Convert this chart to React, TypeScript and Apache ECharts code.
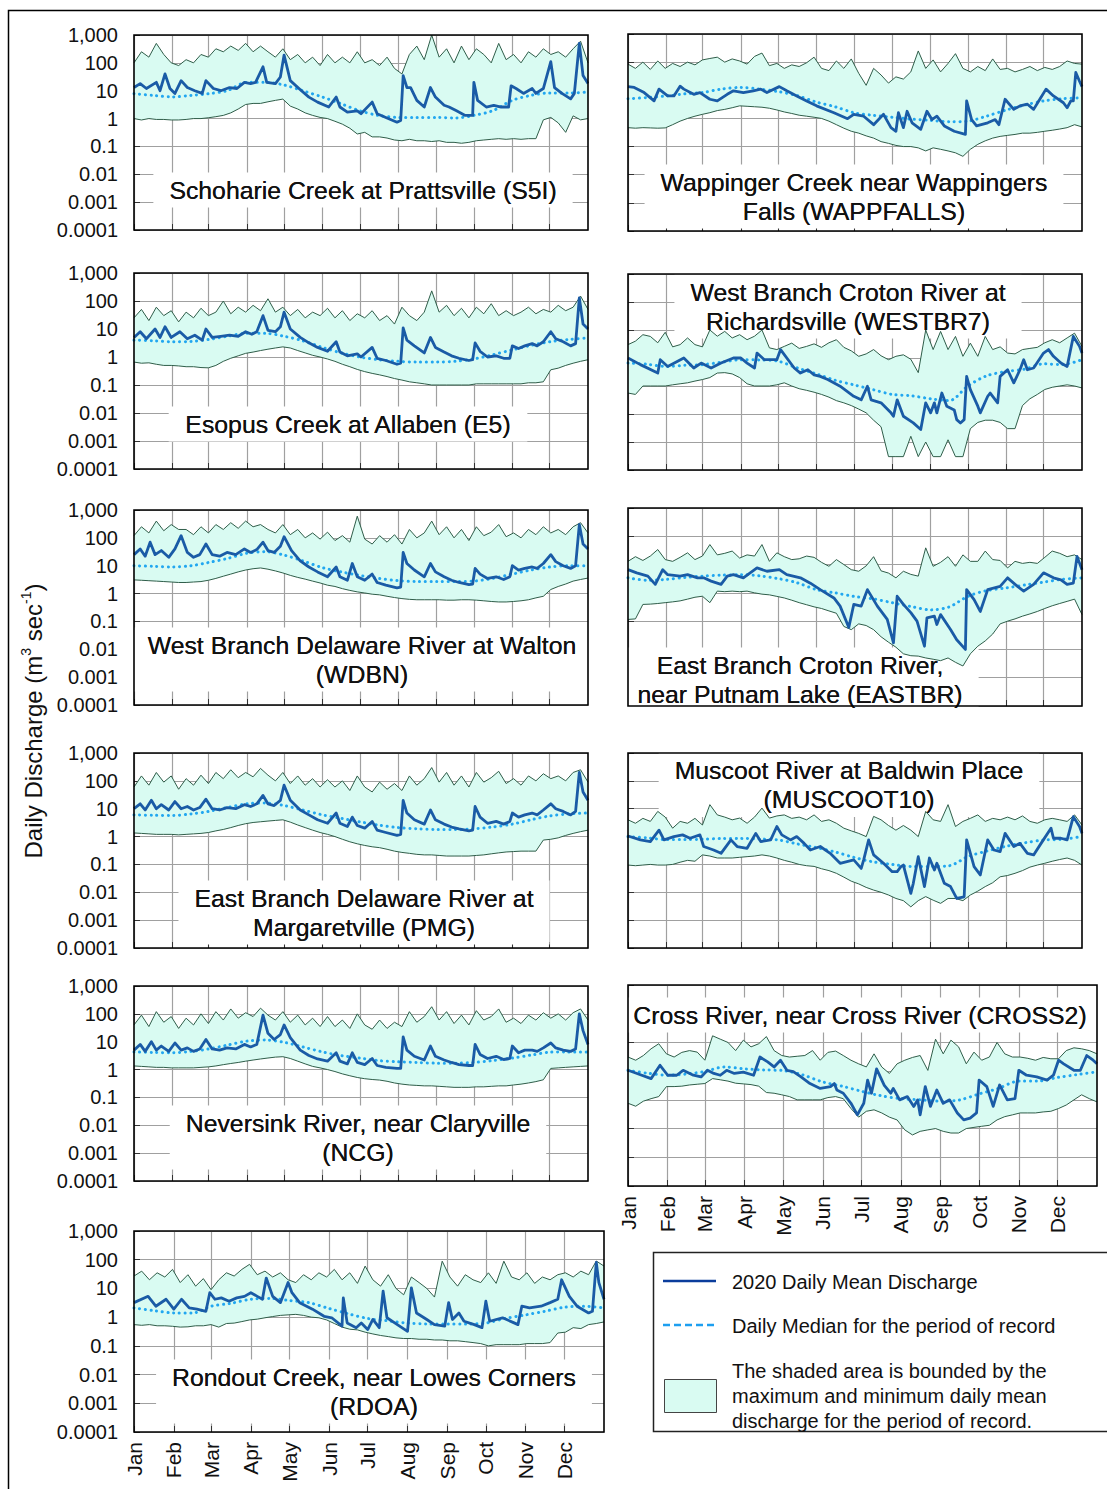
import React, { useEffect, useRef } from 'react';
import * as echarts from 'echarts';

// ---------- shared axes ----------
const ENV_DAYS = [
  0, 6, 12, 18, 24, 30, 36, 42, 48, 54,
  60, 66, 72, 78, 84, 90, 96, 102, 108, 114,
  120, 126, 132, 138, 144, 150, 156, 162, 168, 174,
  180, 186, 192, 198, 204, 210, 216, 222, 228, 234,
  240, 246, 252, 258, 264, 270, 276, 282, 288, 294,
  300, 306, 312, 318, 324, 330, 336, 342, 348, 354,
  360, 366,
];
const MEDIAN_DAYS = [0, 15, 31, 46, 60, 75, 91, 106, 121, 136, 152, 167, 182, 197, 213, 228, 244, 259, 274, 289, 305, 320, 335, 350, 366];
const MONTH_START_DAYS = [0, 31, 60, 91, 121, 152, 182, 213, 244, 274, 305, 335];
const MONTH_LABELS = ['Jan', 'Feb', 'Mar', 'Apr', 'May', 'Jun', 'Jul', 'Aug', 'Sep', 'Oct', 'Nov', 'Dec'];
const Y_TICK_LABELS = ['0.0001', '0.001', '0.01', '0.1', '1', '10', '100', '1,000'];

// ---------- Schoharie Creek (S5I) ----------
const S5I_MAX = [
  100, 250, 160, 500, 200, 100, 80, 130, 100, 200,
  160, 320, 250, 400, 280, 500, 250, 400, 250, 160,
  320, 130, 200, 100, 160, 80, 200, 100, 160, 100,
  250, 100, 130, 80, 160, 63, 40, 200, 400, 130,
  1000, 160, 320, 100, 400, 130, 320, 200, 100, 500,
  130, 200, 100, 250, 160, 320, 200, 250, 160, 320,
  600, 100,
];
const S5I_MIN = [
  1.0, 0.89, 1.0, 0.93, 0.93, 0.89, 0.89, 0.93, 1.0, 1.0,
  1.07, 1.17, 1.3, 1.6, 2.2, 3.2, 3.5, 3.5, 4.0, 4.5,
  5.0, 2.8, 2.2, 1.6, 1.3, 1.1, 1.0, 0.8, 0.63, 0.45,
  0.28, 0.32, 0.22, 0.22, 0.2, 0.17, 0.16, 0.18, 0.16, 0.16,
  0.15, 0.16, 0.14, 0.14, 0.13, 0.14, 0.16, 0.17, 0.18, 0.19,
  0.18, 0.19, 0.18, 0.19, 0.19, 0.9, 1.1, 0.7, 0.32, 1.25,
  0.9, 1.0,
];
const S5I_MEDIAN = [7.8, 6.8, 6.0, 6.8, 7.8, 10, 20, 20, 16, 10, 5.9, 3.4, 1.9, 1.3, 1.1, 1.1, 1.1, 1.05, 1.3, 1.9, 4.5, 6.8, 8.3, 8.3, 8.9];
const S5I_2020 = [
  [0, 13], [5, 18], [10, 12], [18, 20], [21, 10], [25, 40], [29, 12], [33, 8], [38, 23], [43, 13],
  [49, 10], [55, 8], [58, 23], [64, 12], [70, 10], [77, 13], [83, 12], [89, 20], [94, 18], [98, 20],
  [104, 72], [107, 20], [114, 18], [118, 31], [121, 190], [126, 23], [135, 10], [141, 5.9], [148, 3.9], [157, 2.6],
  [163, 5.9], [166, 2.6], [172, 1.7], [180, 1.9], [183, 1.5], [192, 3.9], [196, 1.5], [203, 1.1], [212, 0.74], [215, 0.85],
  [217, 35], [220, 13], [223, 13], [228, 4.5], [234, 2.6], [239, 13], [243, 5.9], [250, 3.0], [254, 2.6], [260, 1.9],
  [267, 1.3], [273, 1.3], [274, 20], [277, 4.5], [284, 2.6], [290, 3.0], [296, 2.6], [302, 2.6], [304, 15], [308, 12],
  [314, 8], [321, 12], [324, 8], [330, 12], [336, 110], [339, 13], [345, 8], [352, 5.1], [355, 8], [359, 500],
  [362, 35], [366, 18],
];

// ---------- Esopus Creek (E5) ----------
const E5_MAX = [
  25, 50, 20, 60, 30, 45, 18, 40, 25, 55,
  30, 40, 100, 35, 60, 40, 70, 45, 120, 40,
  60, 30, 50, 25, 40, 30, 55, 25, 45, 20,
  35, 25, 45, 20, 30, 15, 60, 30, 20, 40,
  230, 40, 70, 30, 55, 25, 60, 35, 80, 30,
  45, 30, 40, 60, 35, 50, 40, 70, 45, 60,
  150, 50,
];
const E5_MIN = [
  0.66, 0.6, 0.62, 0.55, 0.5, 0.5, 0.48, 0.45, 0.45, 0.42,
  0.41, 0.5, 0.7, 0.9, 1.1, 1.35, 1.5, 1.7, 1.9, 2.1,
  2.3, 2.1, 1.7, 1.4, 1.15, 1.0, 0.85, 0.7, 0.55, 0.45,
  0.36, 0.3, 0.26, 0.23, 0.2, 0.17, 0.15, 0.13, 0.12, 0.11,
  0.1, 0.1, 0.1, 0.1, 0.1, 0.1, 0.11, 0.11, 0.11, 0.11,
  0.11, 0.11, 0.11, 0.12, 0.12, 0.13, 0.35, 0.4, 0.5, 0.6,
  0.7, 0.8,
];
const E5_MEDIAN = [4, 3.8, 3.5, 3.6, 4.2, 5.5, 7, 7, 5.5, 3.8, 2.2, 1.4, 1.0, 0.8, 0.7, 0.66, 0.66, 0.7, 0.85, 1.2, 1.8, 2.6, 3.5, 4.2, 4.8];
const E5_2020 = [
  [0, 5], [5, 8], [10, 4.5], [17, 10], [21, 5], [25, 12], [30, 5], [37, 8], [43, 4.5], [49, 6],
  [55, 4], [58, 10], [63, 5], [70, 5.5], [77, 6], [84, 5.5], [90, 8], [95, 6.5], [99, 8], [104, 30],
  [108, 9], [114, 8], [118, 12], [121, 40], [126, 10], [134, 5], [141, 3.2], [148, 2.2], [156, 1.6], [163, 3.5],
  [166, 1.5], [172, 1.1], [180, 1.3], [183, 1.0], [192, 2.2], [196, 0.9], [203, 0.75], [212, 0.55], [215, 0.6], [217, 11],
  [220, 4], [226, 2.5], [234, 1.4], [239, 5], [243, 2.2], [250, 1.5], [256, 1.1], [262, 0.9], [270, 0.75], [273, 0.8],
  [275, 3.2], [279, 1.6], [285, 1.0], [292, 1.1], [298, 0.9], [303, 0.9], [305, 2.5], [310, 2.0], [315, 2.5], [321, 3.0],
  [325, 2.5], [330, 3.5], [336, 8], [340, 4.5], [346, 3.5], [352, 2.5], [356, 3.0], [359, 130], [362, 15], [366, 10],
];

// ---------- West Branch Delaware River (WDBN) ----------
const WDBN_MAX = [
  120, 250, 150, 400, 180, 300, 200, 200, 130, 250,
  150, 300, 200, 350, 220, 400, 250, 300, 200, 150,
  300, 130, 200, 100, 150, 90, 160, 80, 120, 70,
  600, 90, 60, 120, 70, 130, 60, 200, 100, 150,
  400, 130, 250, 100, 200, 80, 250, 120, 160, 300,
  110, 150, 100, 200, 130, 250, 150, 200, 130, 250,
  350, 150,
];
const WDBN_MIN = [
  3.1, 3.0, 2.9, 2.8, 2.7, 2.6, 2.5, 2.5, 2.6, 2.7,
  3.0, 3.5, 4.2, 5, 6, 7, 7.8, 8.3, 7.5, 6.5,
  5.5, 4.5, 3.8, 3.3, 2.8, 2.4, 2.0, 1.8, 1.5, 1.3,
  1.15, 1.05, 0.95, 0.9, 0.8, 0.72, 0.66, 0.62, 0.6, 0.6,
  0.6, 0.6, 0.58, 0.58, 0.6, 0.6, 0.58, 0.55, 0.52, 0.5,
  0.5, 0.52, 0.55, 0.6, 0.7, 0.8, 1.4, 1.8, 2.2, 2.8,
  3.2, 3.6,
];
const WDBN_MEDIAN = [10, 9.5, 9, 10, 13, 18, 28, 32, 24, 15, 8.5, 6, 4.5, 3.5, 2.9, 2.7, 2.7, 2.7, 2.8, 3.5, 5, 7, 9, 10, 10];
const WDBN_2020 = [
  [0, 25], [5, 40], [9, 22], [13, 70], [17, 25], [22, 35], [28, 20], [33, 40], [38, 120], [43, 30],
  [48, 20], [53, 25], [58, 60], [63, 25], [69, 22], [75, 30], [82, 25], [89, 40], [94, 30], [99, 38],
  [104, 70], [108, 35], [113, 30], [118, 50], [121, 110], [127, 35], [134, 15], [141, 9], [148, 6], [156, 4],
  [163, 9], [166, 4], [172, 3.0], [176, 12], [180, 4], [186, 3.0], [192, 5], [196, 2.5], [203, 2.0], [212, 1.6],
  [215, 1.7], [217, 30], [220, 12], [226, 7], [234, 4], [239, 12], [243, 6], [250, 4], [256, 3], [262, 2.5],
  [270, 2.1], [273, 2.2], [275, 8], [279, 5], [285, 3.5], [292, 4], [298, 3.2], [303, 4], [305, 10], [310, 7],
  [315, 8], [321, 9], [325, 8], [330, 12], [336, 25], [340, 14], [346, 10], [352, 8], [356, 10], [359, 300],
  [362, 60], [366, 40],
];

// ---------- East Branch Delaware River (PMG) ----------
const PMG_MAX = [
  60, 150, 70, 200, 90, 150, 50, 120, 70, 160,
  80, 200, 120, 250, 130, 200, 140, 280, 160, 100,
  200, 80, 150, 70, 120, 60, 110, 60, 100, 45,
  150, 60, 40, 90, 50, 80, 45, 150, 70, 120,
  300, 90, 200, 70, 150, 60, 200, 90, 130, 220,
  80, 120, 70, 150, 100, 180, 120, 150, 100, 200,
  250, 90,
];
const PMG_MIN = [
  1.35, 1.3, 1.25, 1.2, 1.2, 1.2, 1.15, 1.2, 1.25, 1.3,
  1.4, 1.6, 1.8, 2.1, 2.5, 2.9, 3.2, 3.4, 3.6, 3.8,
  4.0, 3.3, 2.6, 2.1, 1.7, 1.4, 1.2, 1.0, 0.8, 0.65,
  0.55, 0.48, 0.43, 0.4, 0.35, 0.3, 0.27, 0.25, 0.23, 0.22,
  0.22, 0.21, 0.2, 0.2, 0.2, 0.2, 0.21, 0.22, 0.24, 0.26,
  0.28, 0.29, 0.3, 0.3, 0.3, 0.75, 0.8, 0.9, 1.1, 1.3,
  1.5, 1.7,
];
const PMG_MEDIAN = [6, 5.8, 5.7, 6.5, 8, 11, 15, 16, 13, 9, 6, 4.5, 3.4, 2.6, 2.1, 1.9, 1.8, 1.8, 1.9, 2.2, 2.8, 4, 5.5, 6.5, 7];
const PMG_2020 = [
  [0, 10], [5, 15], [9, 9], [14, 20], [18, 10], [22, 14], [28, 9], [33, 18], [38, 10], [43, 12],
  [48, 9], [53, 11], [58, 22], [63, 10], [69, 9], [75, 11], [82, 10], [89, 14], [94, 12], [99, 15],
  [104, 30], [108, 15], [113, 13], [118, 20], [121, 70], [126, 20], [134, 9], [141, 6], [148, 4], [156, 3],
  [163, 7], [166, 3], [172, 2.3], [176, 5], [180, 2.5], [186, 2.0], [192, 3.5], [196, 1.7], [203, 1.4], [212, 1.1],
  [215, 1.2], [217, 20], [220, 7], [226, 4], [234, 2.8], [239, 9], [243, 4], [250, 2.8], [256, 2.2], [262, 1.9],
  [270, 1.6], [273, 1.7], [275, 12], [279, 5], [285, 3], [292, 3.5], [298, 2.8], [303, 3.5], [305, 7], [310, 5],
  [315, 6], [321, 7], [325, 6], [330, 9], [336, 15], [340, 10], [346, 8], [352, 6], [356, 8], [359, 200],
  [362, 40], [366, 20],
];

// ---------- Neversink River (NCG) ----------
const NCG_MAX = [
  40, 90, 35, 120, 50, 80, 30, 70, 40, 100,
  45, 120, 60, 150, 70, 110, 80, 160, 90, 60,
  120, 50, 90, 40, 70, 35, 80, 35, 60, 30,
  100, 40, 28, 60, 30, 50, 35, 120, 50, 80,
  180, 60, 120, 45, 90, 40, 130, 60, 80, 150,
  50, 70, 45, 90, 60, 110, 70, 100, 60, 110,
  150, 60,
];
const NCG_MIN = [
  1.35, 1.3, 1.25, 1.2, 1.2, 1.15, 1.15, 1.15, 1.15, 1.2,
  1.25, 1.35, 1.5, 1.65, 1.8, 2.0, 2.2, 2.4, 2.6, 2.8,
  2.9, 2.5, 2.0, 1.6, 1.3, 1.15, 1.0, 0.85, 0.7, 0.6,
  0.52, 0.47, 0.44, 0.42, 0.38, 0.33, 0.3, 0.28, 0.27, 0.26,
  0.26, 0.25, 0.24, 0.23, 0.23, 0.23, 0.24, 0.24, 0.25, 0.26,
  0.26, 0.28, 0.3, 0.33, 0.37, 0.43, 1.1, 1.15, 1.2, 1.25,
  1.3, 1.35,
];
const NCG_MEDIAN = [4.3, 4.1, 4.0, 4.5, 5.5, 7.5, 10.5, 11.5, 9.5, 6.5, 4.3, 3.2, 2.6, 2.1, 1.9, 1.8, 1.7, 1.7, 1.8, 2.1, 2.6, 3.3, 4.2, 4.3, 4.3];
const NCG_2020 = [
  [0, 5], [5, 8], [9, 4.5], [14, 10], [18, 5], [22, 7], [28, 4.5], [33, 9], [38, 5], [43, 6],
  [48, 4.5], [53, 5.5], [58, 12], [63, 5.5], [69, 5], [75, 6], [82, 5.5], [89, 8], [94, 6.5], [99, 8],
  [104, 90], [108, 20], [113, 12], [118, 18], [121, 40], [126, 14], [134, 5], [141, 3.2], [148, 2.4], [156, 2.0],
  [163, 4], [166, 2.0], [172, 1.6], [176, 4], [180, 1.8], [186, 1.5], [192, 2.5], [196, 1.4], [203, 1.2], [212, 1.1],
  [215, 1.1], [217, 15], [220, 5], [226, 3], [234, 2.2], [239, 7], [243, 3], [250, 2.2], [256, 1.8], [262, 1.5],
  [270, 1.4], [273, 1.4], [275, 8], [279, 3.5], [285, 2.5], [292, 3.0], [298, 2.3], [303, 2.5], [305, 7], [310, 4],
  [315, 5], [321, 5], [325, 4.5], [330, 6], [336, 9], [340, 6], [346, 5], [352, 4.5], [356, 5.5], [359, 100],
  [362, 25], [366, 8],
];

// ---------- Rondout Creek (RDOA) ----------
const RDOA_MAX = [
  27, 40, 20, 35, 25, 46, 16, 30, 12, 22,
  9, 20, 35, 27, 46, 69, 30, 40, 25, 35,
  20, 16, 30, 20, 35, 25, 46, 20, 35, 15,
  60, 20, 12, 30, 10, 6, 25, 16, 10, 5,
  89, 25, 12, 30, 20, 16, 35, 15, 89, 25,
  20, 35, 15, 25, 20, 30, 35, 25, 40, 30,
  90, 60,
];
const RDOA_MIN = [
  0.55, 0.52, 0.55, 0.5, 0.5, 0.48, 0.45, 0.46, 0.5, 0.5,
  0.55, 0.45, 0.6, 0.62, 0.7, 0.8, 0.85, 0.95, 1.05, 1.15,
  1.2, 1.25, 1.15, 1.0, 0.95, 0.8, 0.6, 0.45, 0.38, 0.36,
  0.3, 0.26, 0.23, 0.21, 0.19, 0.18, 0.18, 0.17, 0.17, 0.16,
  0.16, 0.15, 0.15, 0.14, 0.13, 0.12, 0.1, 0.11, 0.11, 0.11,
  0.11, 0.12, 0.12, 0.12, 0.13, 0.28, 0.3, 0.43, 0.4, 0.55,
  0.6, 0.68,
];
const RDOA_MEDIAN = [2.1, 1.7, 1.4, 1.4, 2.4, 3.0, 4.2, 4.5, 3.8, 3.2, 2.0, 1.3, 0.9, 0.75, 0.62, 0.58, 0.58, 0.58, 0.62, 0.9, 1.2, 1.6, 2.2, 2.4, 2.1];
const RDOA_2020 = [
  [0, 3.2], [11, 5.3], [17, 2.4], [25, 4.2], [31, 1.9], [37, 4.2], [43, 2.1], [49, 1.9], [56, 1.6], [59, 7.1],
  [63, 4.2], [68, 4.7], [74, 3.6], [80, 4.7], [86, 5.3], [91, 7.1], [96, 5.3], [100, 4.2], [103, 23], [108, 5.3],
  [114, 3.2], [120, 16], [123, 7.1], [129, 3.2], [139, 1.9], [148, 1.07], [154, 0.95], [162, 0.49], [163, 4.7], [166, 0.63],
  [173, 0.43], [177, 0.63], [182, 0.37], [186, 0.83], [191, 0.43], [194, 8], [197, 0.95], [203, 0.63], [213, 0.32], [216, 10.5],
  [220, 1.4], [228, 0.83], [234, 0.55], [242, 0.49], [245, 3.2], [248, 0.83], [253, 1.4], [257, 0.72], [265, 0.55], [271, 0.43],
  [274, 3.6], [277, 0.72], [287, 0.95], [296, 0.63], [299, 0.55], [302, 2.4], [308, 2.1], [317, 2.4], [324, 3.2], [330, 4.2],
  [333, 20], [339, 5.3], [345, 2.4], [354, 1.4], [357, 1.6], [360, 80], [362, 16], [366, 4.2],
];

// ---------- Wappinger Creek (WAPPFALLS) ----------
const WAPP_MAX = [
  85, 60, 100, 55, 110, 60, 90, 70, 100, 80,
  120, 135, 150, 100, 130, 110, 85, 160, 210, 75,
  90, 60, 80, 70, 95, 150, 60, 50, 110, 60,
  130, 40, 15, 60, 35, 18, 30, 25, 45, 250,
  60, 120, 45, 90, 200, 60, 45, 70, 50, 130,
  55, 60, 45, 55, 70, 50, 65, 55, 70, 110,
  90, 85,
];
const WAPP_MIN = [
  0.47, 0.45, 0.47, 0.46, 0.45, 0.46, 0.6, 0.8, 1.0, 1.2,
  1.4, 1.6, 1.9, 2.1, 2.4, 2.8, 2.7, 2.6, 2.5, 2.3,
  2.0, 1.7, 1.5, 1.3, 1.2, 1.1, 1.0, 0.8, 0.6, 0.45,
  0.35, 0.3, 0.24, 0.2, 0.15, 0.13, 0.11, 0.1, 0.1, 0.09,
  0.07, 0.09, 0.08, 0.07, 0.06, 0.045, 0.08, 0.12, 0.16, 0.2,
  0.23, 0.25, 0.27, 0.3, 0.3, 0.32, 0.35, 0.38, 0.42, 0.47,
  0.6, 0.5,
];
const WAPP_MEDIAN = [5, 5.5, 6.3, 7.5, 8.3, 11, 12.6, 11, 9, 6.5, 3.8, 2.6, 1.6, 1.3, 1.1, 0.95, 0.85, 0.76, 0.8, 1.2, 2.0, 3.0, 4.2, 5, 5.4];
const WAPP_2020 = [
  [0, 13.5], [5, 12.6], [13, 8.3], [21, 4.2], [25, 11], [32, 6.3], [37, 6.3], [42, 14], [45, 11], [53, 7.2],
  [58, 8.3], [66, 4.8], [72, 4.2], [80, 7.2], [85, 9.6], [93, 8.3], [101, 9.6], [107, 11], [112, 8.3], [122, 13.5],
  [128, 9.6], [136, 6.3], [144, 4.2], [152, 2.8], [166, 1.6], [177, 0.98], [182, 1.4], [190, 1.2], [198, 0.6], [206, 1.4],
  [212, 0.47], [216, 0.35], [218, 1.6], [222, 0.47], [225, 1.8], [229, 0.7], [236, 0.41], [241, 1.8], [245, 0.91], [249, 1.2],
  [255, 0.54], [263, 0.35], [272, 0.27], [273, 4.2], [277, 0.91], [281, 0.54], [290, 0.7], [296, 0.91], [299, 0.6], [304, 4.8],
  [311, 2.1], [316, 2.8], [322, 3.2], [327, 2.1], [332, 4.8], [337, 11], [343, 6.3], [351, 3.6], [354, 2.4], [357, 4.2],
  [359, 4.2], [361, 43], [364, 21], [366, 13.5],
];

// ---------- West Branch Croton River (WESTBR7) ----------
const WESTBR7_MAX = [
  3.0, 4.0, 6.8, 5.9, 3.5, 8.3, 2.5, 3.0, 5.2, 3.0,
  2.5, 10, 6, 8.9, 5.2, 6.8, 4.5, 6, 10, 2.3,
  2.0, 2.6, 3.4, 2.2, 2.6, 3.2, 2.4, 3.5, 4.5, 2.4,
  1.8, 1.15, 1.4, 2.0, 1.2, 0.87, 1.15, 1.3, 0.9, 0.3,
  10, 2.0, 8.9, 2.0, 5.9, 1.15, 3.4, 1.15, 5.9, 2.0,
  2.5, 1.5, 1.4, 2.0, 2.2, 2.4, 3.5, 4.5, 3.5, 5.2,
  7.7, 2.6,
];
const WESTBR7_MIN = [
  0.056, 0.05, 0.1, 0.1, 0.1, 0.1, 0.11, 0.12, 0.13, 0.15,
  0.17, 0.2, 0.29, 0.3, 0.27, 0.2, 0.12, 0.1, 0.1, 0.1,
  0.11, 0.13, 0.1, 0.08, 0.07, 0.06, 0.05, 0.04, 0.03, 0.025,
  0.02, 0.015, 0.011, 0.006, 0.0035, 0.0003, 0.0003, 0.0003, 0.0016, 0.0003,
  0.001, 0.0003, 0.0003, 0.0012, 0.0003, 0.0003, 0.003, 0.005, 0.006, 0.006,
  0.005, 0.003, 0.003, 0.02, 0.035, 0.05, 0.075, 0.09, 0.1, 0.11,
  0.1, 0.085,
];
const WESTBR7_MEDIAN = [0.66, 0.6, 0.5, 0.55, 0.58, 0.7, 0.87, 0.85, 0.77, 0.45, 0.27, 0.16, 0.11, 0.075, 0.05, 0.045, 0.035, 0.03, 0.1, 0.23, 0.33, 0.4, 0.62, 0.58, 0.87];
const WESTBR7_2020 = [
  [0, 1.0], [10, 0.58], [24, 0.29], [26, 0.87], [32, 0.5], [45, 1.0], [53, 0.44], [59, 0.66], [67, 0.44], [75, 0.66],
  [85, 1.0], [91, 1.0], [96, 0.66], [102, 0.44], [104, 1.5], [110, 0.87], [120, 0.87], [123, 2.0], [134, 0.44], [139, 0.29],
  [145, 0.38], [150, 0.25], [155, 0.22], [161, 0.17], [171, 0.098], [182, 0.043], [188, 0.032], [193, 0.098], [196, 0.032], [204, 0.025],
  [212, 0.011], [214, 0.0083], [217, 0.032], [222, 0.0083], [230, 0.0048], [236, 0.0028], [240, 0.025], [244, 0.011], [247, 0.025], [249, 0.011],
  [253, 0.056], [257, 0.019], [263, 0.014], [265, 0.0063], [268, 0.0048], [271, 0.0063], [273, 0.22], [276, 0.074], [282, 0.019], [284, 0.011],
  [290, 0.043], [292, 0.056], [298, 0.025], [300, 0.22], [306, 0.38], [311, 0.13], [316, 0.38], [319, 0.87], [322, 0.38], [327, 0.44],
  [335, 1.5], [339, 2.0], [343, 1.15], [349, 0.66], [354, 0.5], [359, 5.9], [364, 2.6], [366, 1.5],
];

// ---------- East Branch Croton River (EASTBR) ----------
const EASTBR_MAX = [
  13, 19, 14, 20, 34, 15, 13, 18, 26, 15,
  20, 51, 22, 25, 30, 17, 22, 20, 51, 13,
  26, 19, 15, 16, 20, 18, 12, 8.7, 15, 10,
  6.6, 5.8, 9, 19, 6, 5, 3.4, 5.8, 4.5, 3.9,
  39, 8.7, 12, 19, 8.7, 22, 13, 13, 30, 15,
  14, 7.6, 13, 11, 12, 11, 18, 30, 25, 19,
  22, 15,
];
const EASTBR_MIN = [
  0.115, 0.12, 0.39, 0.4, 0.42, 0.45, 0.48, 0.52, 0.6, 0.7,
  0.76, 0.45, 1.15, 1.1, 1.15, 1.1, 1.15, 1.0, 0.9, 0.85,
  0.75, 0.66, 0.55, 0.45, 0.38, 0.32, 0.28, 0.23, 0.19, 0.065,
  0.05, 0.08, 0.07, 0.05, 0.028, 0.018, 0.012, 0.007, 0.006, 0.0058,
  0.005, 0.0045, 0.004, 0.005, 0.0035, 0.0026, 0.007, 0.013, 0.02, 0.035,
  0.08, 0.1, 0.12, 0.15, 0.18, 0.22, 0.28, 0.35, 0.42, 0.5,
  0.6, 0.17,
];
const EASTBR_MEDIAN = [3.4, 2.8, 3.0, 3.5, 3.9, 4.2, 4.4, 4.0, 3.2, 2.3, 1.3, 1.0, 0.75, 0.62, 0.45, 0.33, 0.25, 0.32, 0.75, 1.2, 1.5, 1.9, 2.4, 3.0, 3.4];
const EASTBR_2020 = [
  [0, 6.6], [7, 5.1], [16, 3.9], [22, 2.0], [28, 6.6], [32, 4.4], [42, 3.9], [48, 4.4], [56, 3.4], [61, 3.4],
  [67, 2.6], [75, 2.0], [80, 3.9], [85, 4.4], [93, 3.4], [104, 7.6], [112, 5.8], [122, 6.6], [128, 4.4], [139, 3.4],
  [147, 2.2], [155, 1.3], [166, 0.66], [171, 0.34], [178, 0.06], [182, 0.39], [188, 0.34], [193, 1.3], [201, 0.34], [209, 0.115],
  [214, 0.017], [217, 0.76], [222, 0.39], [228, 0.2], [233, 0.1], [239, 0.013], [241, 0.13], [247, 0.15], [249, 0.076], [252, 0.17],
  [260, 0.051], [265, 0.022], [272, 0.01], [273, 1.3], [279, 0.58], [284, 0.22], [290, 1.3], [300, 1.7], [306, 3.4], [314, 1.7],
  [319, 1.15], [327, 2.0], [335, 5.1], [343, 3.4], [349, 2.9], [354, 2.0], [359, 2.2], [362, 19.5], [366, 6.6],
];

// ---------- Muscoot River (MUSCOOT10) ----------
const MUSCOOT_MAX = [
  4, 3, 4.5, 3.5, 8, 5, 2, 3.5, 3, 4.5,
  2.6, 14, 6, 5, 4, 4.6, 3, 5, 10.5, 4.6,
  5.5, 6, 4.5, 5, 4, 6, 3.5, 4, 3, 2,
  1.6, 1.3, 1.0, 5.3, 4, 2.5, 1.7, 2.5, 1.7, 1.0,
  8, 4, 3.5, 14, 2.3, 3.5, 4.5, 6, 3.5, 4.5,
  4, 5, 4, 5.5, 3.5, 3, 4, 4.5, 4, 3.5,
  6, 2.6,
];
const MUSCOOT_MIN = [
  0.095, 0.09, 0.095, 0.1, 0.095, 0.095, 0.1, 0.12, 0.14, 0.13,
  0.22, 0.2, 0.17, 0.17, 0.17, 0.18, 0.19, 0.2, 0.22, 0.2,
  0.17, 0.14, 0.12, 0.1, 0.09, 0.085, 0.07, 0.06, 0.048, 0.035,
  0.025, 0.02, 0.015, 0.012, 0.01, 0.008, 0.006, 0.005, 0.003, 0.005,
  0.007, 0.0052, 0.004, 0.006, 0.006, 0.005, 0.008, 0.011, 0.016, 0.022,
  0.036, 0.04, 0.048, 0.06, 0.08, 0.095, 0.11, 0.13, 0.15, 0.17,
  0.14, 0.095,
];
const MUSCOOT_MEDIAN = [1.0, 0.9, 0.78, 0.78, 0.8, 0.85, 0.86, 0.82, 0.76, 0.55, 0.4, 0.28, 0.18, 0.125, 0.1, 0.085, 0.085, 0.09, 0.19, 0.3, 0.45, 0.6, 0.75, 0.8, 1.0];
const MUSCOOT_2020 = [
  [0, 1.05], [10, 0.76], [18, 0.66], [25, 1.7], [29, 0.76], [37, 1.0], [44, 1.15], [50, 0.87], [58, 1.15], [61, 0.44],
  [69, 0.33], [75, 0.25], [83, 0.76], [88, 0.44], [96, 0.38], [103, 1.3], [107, 0.66], [115, 0.76], [120, 2.3], [124, 1.15],
  [131, 0.76], [136, 1.0], [142, 0.57], [147, 0.33], [155, 0.44], [163, 0.25], [171, 0.11], [182, 0.145], [188, 0.072], [190, 0.145],
  [194, 0.76], [198, 0.22], [206, 0.11], [213, 0.055], [217, 0.055], [220, 0.083], [222, 0.095], [228, 0.0091], [230, 0.021], [234, 0.19],
  [239, 0.016], [243, 0.17], [247, 0.063], [249, 0.11], [255, 0.021], [260, 0.016], [265, 0.006], [271, 0.0069], [273, 0.76], [279, 0.083],
  [284, 0.042], [290, 0.76], [295, 0.33], [300, 0.29], [304, 1.3], [311, 0.44], [316, 0.57], [322, 0.25], [327, 0.22], [333, 0.57],
  [341, 2.0], [343, 0.87], [349, 0.87], [354, 0.76], [359, 5.2], [364, 2.3], [366, 1.3],
];

// ---------- Cross River (CROSS2) ----------
const CROSS2_MAX = [
  3.1, 2.4, 3.5, 6, 9, 4, 3.1, 4.5, 5.2, 4.6,
  2.4, 17, 13, 10, 5.2, 12, 7, 9, 16, 5.2,
  3.5, 3.1, 3.3, 3.5, 5.2, 2.4, 4.5, 5, 3.5, 2.4,
  1.8, 1.4, 4, 1.4, 0.83, 1.8, 2.4, 3.0, 3.5, 1.06,
  13, 4, 12, 7, 1.8, 4.6, 2.4, 3.1, 10, 4,
  3.1, 3.1, 2.8, 2.4, 3.0, 2.7, 2.7, 5.2, 6.5, 6,
  5.2, 4,
];
const CROSS2_MIN = [
  0.076, 0.06, 0.09, 0.11, 0.13, 0.29, 0.29, 0.3, 0.33, 0.35,
  0.37, 0.55, 0.5, 0.45, 0.38, 0.36, 0.34, 0.3, 0.18, 0.17,
  0.15, 0.13, 0.1, 0.1, 0.1, 0.1, 0.12, 0.13, 0.11, 0.05,
  0.025, 0.04, 0.045, 0.035, 0.025, 0.02, 0.009, 0.006, 0.008, 0.009,
  0.01, 0.008, 0.007, 0.007, 0.01, 0.011, 0.012, 0.013, 0.02, 0.026,
  0.03, 0.035, 0.035, 0.035, 0.038, 0.04, 0.05, 0.066, 0.1, 0.15,
  0.11, 0.085,
];
const CROSS2_MEDIAN = [1.07, 0.85, 0.72, 0.8, 0.97, 1.4, 1.2, 1.1, 1.05, 0.75, 0.42, 0.3, 0.2, 0.14, 0.11, 0.1, 0.09, 0.1, 0.16, 0.25, 0.45, 0.45, 0.6, 0.75, 0.95];
const CROSS2_2020 = [
  [0, 1.07], [7, 0.83], [18, 0.55], [25, 1.6], [31, 0.72], [38, 0.72], [43, 1.07], [51, 0.72], [57, 0.63], [62, 1.07],
  [67, 0.83], [72, 0.72], [77, 1.07], [83, 0.83], [90, 0.93], [98, 0.72], [103, 3.1], [109, 2.1], [114, 1.4], [119, 2.4],
  [124, 1.07], [129, 0.97], [135, 0.63], [142, 0.37], [150, 0.25], [158, 0.29], [161, 0.37], [163, 0.22], [168, 0.17], [174, 0.076],
  [179, 0.03], [184, 0.076], [187, 0.49], [190, 0.17], [194, 1.2], [200, 0.32], [205, 0.17], [207, 0.25], [212, 0.1], [218, 0.13],
  [223, 0.059], [226, 0.1], [228, 0.03], [232, 0.29], [236, 0.059], [241, 0.22], [246, 0.076], [251, 0.1], [257, 0.035], [262, 0.02],
  [267, 0.023], [272, 0.035], [274, 0.49], [280, 0.29], [285, 0.059], [290, 0.33], [296, 0.1], [302, 0.11], [305, 1.07], [311, 0.72],
  [319, 0.63], [327, 0.49], [332, 0.72], [336, 2.4], [340, 1.8], [348, 1.07], [353, 1.07], [358, 3.5], [363, 2.4], [366, 1.8],
];

// ---------- sites, in panel order ----------
const SITES = [
  { name: 'Schoharie Creek at Prattsville (S5I)', max: S5I_MAX, min: S5I_MIN, median: S5I_MEDIAN, daily: S5I_2020 },
  { name: 'Esopus Creek at Allaben (E5)', max: E5_MAX, min: E5_MIN, median: E5_MEDIAN, daily: E5_2020 },
  { name: 'West Branch Delaware River at Walton\n(WDBN)', max: WDBN_MAX, min: WDBN_MIN, median: WDBN_MEDIAN, daily: WDBN_2020 },
  { name: 'East Branch Delaware River at\nMargaretville (PMG)', max: PMG_MAX, min: PMG_MIN, median: PMG_MEDIAN, daily: PMG_2020 },
  { name: 'Neversink River, near Claryville\n(NCG)', max: NCG_MAX, min: NCG_MIN, median: NCG_MEDIAN, daily: NCG_2020 },
  { name: 'Rondout Creek, near Lowes Corners\n(RDOA)', max: RDOA_MAX, min: RDOA_MIN, median: RDOA_MEDIAN, daily: RDOA_2020 },
  { name: 'Wappinger Creek near Wappingers\nFalls (WAPPFALLS)', max: WAPP_MAX, min: WAPP_MIN, median: WAPP_MEDIAN, daily: WAPP_2020 },
  { name: 'West Branch Croton River at\nRichardsville (WESTBR7)', max: WESTBR7_MAX, min: WESTBR7_MIN, median: WESTBR7_MEDIAN, daily: WESTBR7_2020 },
  { name: 'East Branch Croton River,\nnear Putnam Lake (EASTBR)', max: EASTBR_MAX, min: EASTBR_MIN, median: EASTBR_MEDIAN, daily: EASTBR_2020 },
  { name: 'Muscoot River at Baldwin Place\n(MUSCOOT10)', max: MUSCOOT_MAX, min: MUSCOOT_MIN, median: MUSCOOT_MEDIAN, daily: MUSCOOT_2020 },
  { name: 'Cross River, near Cross River (CROSS2)', max: CROSS2_MAX, min: CROSS2_MIN, median: CROSS2_MEDIAN, daily: CROSS2_2020 },
];

// ---------- layout ----------
const PANELS = [
  { left: 134, top: 35, width: 454, height: 195, tx: 363, ty: 190, yLabels: true, xLabels: false },
  { left: 134, top: 273, width: 454, height: 196, tx: 348, ty: 424, yLabels: true, xLabels: false },
  { left: 134, top: 510, width: 454, height: 195, tx: 362, ty: 659.5, yLabels: true, xLabels: false },
  { left: 134, top: 753, width: 454, height: 195, tx: 364, ty: 912.5, yLabels: true, xLabels: false },
  { left: 134, top: 986, width: 454, height: 195, tx: 358, ty: 1137.5, yLabels: true, xLabels: false },
  { left: 134, top: 1231, width: 470, height: 201, tx: 374, ty: 1391.5, yLabels: true, xLabels: true },
  { left: 628, top: 34, width: 454, height: 197, tx: 854, ty: 196.5, yLabels: false, xLabels: false },
  { left: 628, top: 274, width: 454, height: 196, tx: 848, ty: 306.5, yLabels: false, xLabels: false },
  { left: 628, top: 508, width: 454, height: 198, tx: 800, ty: 679.5, yLabels: false, xLabels: false },
  { left: 628, top: 753, width: 454, height: 195, tx: 849, ty: 785, yLabels: false, xLabels: false },
  { left: 628, top: 985, width: 469, height: 201, tx: 860, ty: 1015, yLabels: false, xLabels: true },
];

const FONT = '"Liberation Sans", Arial, Helvetica, sans-serif';
const FILL = '#d9fbf2';
const ENVELOPE_LINE = '#2f5d49';
const DAILY_LINE = '#1a5ba6';
const MEDIAN_LINE = '#22a7f0';
const GRID_LINE = '#a0a0a0';

function buildOption() {
  const grid: any[] = [];
  const xAxis: any[] = [];
  const yAxis: any[] = [];
  const series: any[] = [];
  const graphic: any[] = [];

  PANELS.forEach((p, i) => {
    const s = SITES[i];
    grid.push({ left: p.left, top: p.top, width: p.width, height: p.height, show: false, containLabel: false });

    xAxis.push({
      gridIndex: i,
      type: 'value',
      min: 0,
      max: 366,
      axisLine: { show: false },
      axisTick: { show: true, inside: true, length: 6, lineStyle: { color: '#333', width: 1 }, customValues: MONTH_START_DAYS },
      splitLine: { show: true, lineStyle: { color: GRID_LINE, width: 1.2 } },
      axisLabel: {
        show: p.xLabels,
        customValues: MONTH_START_DAYS,
        rotate: 90,
        margin: 10,
        fontSize: 21,
        fontFamily: FONT,
        color: '#111',
        formatter: (v: number) => MONTH_LABELS[MONTH_START_DAYS.indexOf(Math.round(v))] || '',
      },
    });

    yAxis.push({
      gridIndex: i,
      type: 'log',
      logBase: 10,
      min: 0.0001,
      max: 1000,
      splitNumber: 7,
      axisLine: { show: false },
      axisTick: { show: true, inside: true, length: 6, lineStyle: { color: '#333', width: 1 } },
      splitLine: { show: true, lineStyle: { color: GRID_LINE, width: 1.2 } },
      axisLabel: {
        show: p.yLabels,
        margin: 16,
        fontSize: 20,
        fontFamily: FONT,
        color: '#111',
        formatter: (v: number) => Y_TICK_LABELS[Math.round(Math.log10(v)) + 4] ?? '',
      },
    });

    // shaded band between the record maximum and minimum
    series.push({
      type: 'custom',
      xAxisIndex: i,
      yAxisIndex: i,
      silent: true,
      z: 2,
      clip: true,
      data: [[0, 1]],
      renderItem: (_params: any, api: any) => {
        const upper = s.max.map((v, k) => api.coord([ENV_DAYS[k], v]));
        const lower = s.min.map((v, k) => api.coord([ENV_DAYS[k], v])).reverse();
        return { type: 'polygon', shape: { points: upper.concat(lower) }, style: { fill: FILL } };
      },
    });

    const lineBase = { type: 'line', xAxisIndex: i, yAxisIndex: i, showSymbol: false, symbol: 'none', silent: true, clip: true };
    series.push({ ...lineBase, z: 4, data: s.max.map((v, k) => [ENV_DAYS[k], v]), lineStyle: { color: ENVELOPE_LINE, width: 1 } });
    series.push({ ...lineBase, z: 4, data: s.min.map((v, k) => [ENV_DAYS[k], v]), lineStyle: { color: ENVELOPE_LINE, width: 1 } });
    series.push({
      ...lineBase,
      z: 5,
      smooth: 0.3,
      data: s.median.map((v, k) => [MEDIAN_DAYS[k], v]),
      lineStyle: { color: MEDIAN_LINE, width: 3, type: [0.1, 5.6], cap: 'round' },
    });
    series.push({ ...lineBase, z: 6, data: s.daily, lineStyle: { color: DAILY_LINE, width: 2.8, join: 'round' } });

    // station name: white box under the band, text above it
    const titleStyle = {
      text: s.name,
      fontSize: 24.8,
      lineHeight: 29,
      fontFamily: FONT,
      fill: '#111',
      align: 'center',
      verticalAlign: 'middle',
    };
    graphic.push({ type: 'text', x: p.tx, y: p.ty, z: 1, silent: true, style: { ...titleStyle, backgroundColor: '#fff', padding: [3, 16] } });
    graphic.push({ type: 'text', x: p.tx, y: p.ty, z: 3, silent: true, style: { ...titleStyle } });

    // panel frame
    graphic.push({
      type: 'rect',
      z: 10,
      silent: true,
      shape: { x: p.left, y: p.top, width: p.width, height: p.height },
      style: { fill: 'transparent', stroke: '#000', lineWidth: 1.6 },
    });
  });

  // figure border
  graphic.push({
    type: 'rect',
    z: 0,
    silent: true,
    shape: { x: 8.5, y: 10.5, width: 1200, height: 1600 },
    style: { fill: 'transparent', stroke: '#000', lineWidth: 1.5 },
  });

  // y-axis title
  graphic.push({
    type: 'text',
    x: 33,
    y: 721,
    rotation: Math.PI / 2,
    silent: true,
    z: 10,
    style: {
      text: '{a|Daily Discharge (m}{s|3}{a| sec}{s|-1}{a|)}',
      align: 'center',
      verticalAlign: 'middle',
      fill: '#111',
      rich: {
        a: { fontSize: 24, fontFamily: FONT, fill: '#111', lineHeight: 28 },
        s: { fontSize: 14, fontFamily: FONT, fill: '#111', lineHeight: 28, verticalAlign: 'top', padding: [0, 0, 11, 0] },
      },
    },
  });

  // legend
  const legendText = { fontSize: 20, fontFamily: FONT, fill: '#111', verticalAlign: 'middle', align: 'left' };
  graphic.push(
    {
      type: 'rect',
      z: 10,
      silent: true,
      shape: { x: 653.5, y: 1252.5, width: 500, height: 179 },
      style: { fill: '#fff', stroke: '#222', lineWidth: 1.5 },
    },
    { type: 'line', z: 11, silent: true, shape: { x1: 663, y1: 1281, x2: 716, y2: 1281 }, style: { stroke: '#0b3d9c', lineWidth: 2.6 } },
    { type: 'text', z: 11, silent: true, x: 732, y: 1282, style: { ...legendText, text: '2020 Daily Mean Discharge' } },
    {
      type: 'line',
      z: 11,
      silent: true,
      shape: { x1: 663, y1: 1325, x2: 716, y2: 1325 },
      style: { stroke: '#1d9ff0', lineWidth: 2.6, lineDash: [7, 4] },
    },
    { type: 'text', z: 11, silent: true, x: 732, y: 1326, style: { ...legendText, text: 'Daily Median for the period of record' } },
    {
      type: 'rect',
      z: 11,
      silent: true,
      shape: { x: 664.5, y: 1379.5, width: 52, height: 33 },
      style: { fill: FILL, stroke: '#444', lineWidth: 1 },
    },
    {
      type: 'text',
      z: 11,
      silent: true,
      x: 732,
      y: 1396,
      style: {
        ...legendText,
        lineHeight: 25,
        text: 'The shaded area is bounded by the\nmaximum and minimum daily mean\ndischarge for the period of record.',
      },
    }
  );

  return { animation: false, grid, xAxis, yAxis, series, graphic };
}

export default function App() {
  const ref = useRef<HTMLDivElement>(null);
  useEffect(() => {
    if (!ref.current) return;
    const chart = echarts.init(ref.current, null, { renderer: 'svg' });
    chart.setOption(buildOption() as any);
    return () => chart.dispose();
  }, []);
  return (
    <div
      ref={ref}
      style={{ position: 'absolute', left: 0, top: 0, width: 1107, height: 1489, background: '#fff' }}
    />
  );
}
